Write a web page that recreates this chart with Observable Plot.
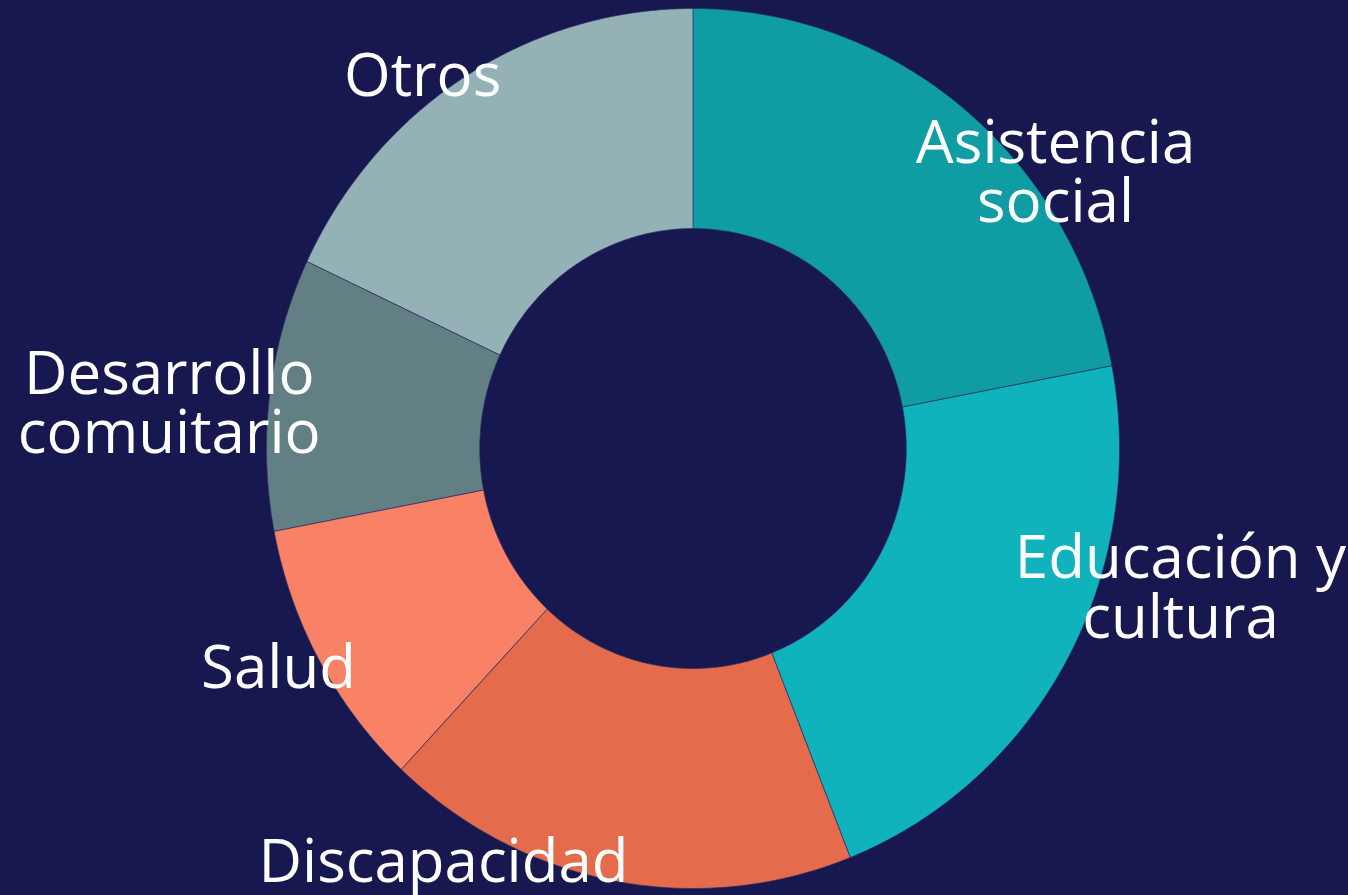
<!DOCTYPE html>
<html>
<head>
<meta charset="utf-8">
<script src="https://cdn.jsdelivr.net/npm/d3@7"></script>
<script src="https://cdn.jsdelivr.net/npm/@observablehq/plot@0.6"></script>
<style>
  html, body { margin: 0; padding: 0; background: #17184f; overflow: hidden; }
  #chart svg { display: block; }
</style>
</head>
<body>
<div id="chart"></div>
<script>
// ---- data ----
const categories = ["Asistencia social", "Educación y cultura", "Discapacidad", "Salud", "Desarrollo comuitario", "Otros"];
const shares = [22, 22, 18, 10, 10, 18];
const labelTexts = ["Asistencia\nsocial", "Educación y\ncultura", "Discapacidad", "Salud", "Desarrollo\ncomuitario", "Otros"];

// ---- styling / layout ----
const colors = ["#0f9ca3", "#10b2bb", "#e56b4d", "#f98266", "#627f83", "#94b1b6"];
const bg = "#17184f";
const innerR = 0.5, outerR = 1;
// label anchor (text centre, last baseline) in chart units (outer radius = 1)
const labelX = [0.850, 1.143, -0.585, -0.972, -1.228, -0.634];
const labelY = [0.514, -0.430, -0.985, -0.545, -0.011, 0.802];

// ---- geometry from shares via d3.pie ----
const arcs = d3.pie().sort(null).value(d => d)(shares);
const pts = [];
arcs.forEach((a, i) => {
  const n = Math.max(2, Math.ceil((a.endAngle - a.startAngle) / (Math.PI / 360)));
  for (let k = 0; k <= n; k++) {
    const t = a.startAngle + (a.endAngle - a.startAngle) * k / n;
    pts.push({name: categories[i], x: outerR * Math.sin(t), y: outerR * Math.cos(t)});
  }
  for (let k = n; k >= 0; k--) {
    const t = a.startAngle + (a.endAngle - a.startAngle) * k / n;
    pts.push({name: categories[i], x: innerR * Math.sin(t), y: innerR * Math.cos(t)});
  }
});
const labels = categories.map((c, i) => ({name: c, text: labelTexts[i], x: labelX[i], y: labelY[i]}));

const chart = Plot.plot({
  width: 1348,
  height: 895,
  margin: 0,
  x: {domain: [-1.6237, 1.5369], axis: null},
  y: {domain: [-1.0159, 1.0182], axis: null},
  color: {domain: categories, range: colors},
  style: {background: bg, fontFamily: "'Open Sans', sans-serif"},
  marks: [
    Plot.line(pts, {x: "x", y: "y", z: "name", fill: "name", stroke: "#2b2f63", strokeWidth: 0.7, curve: "linear-closed"}),
    Plot.text(labels, {x: "x", y: "y", text: "text", fill: "white", fontSize: 60, textAnchor: "middle", lineAnchor: "bottom", lineHeight: 0.99})
  ]
});
document.getElementById("chart").appendChild(chart);
</script>
</body>
</html>
